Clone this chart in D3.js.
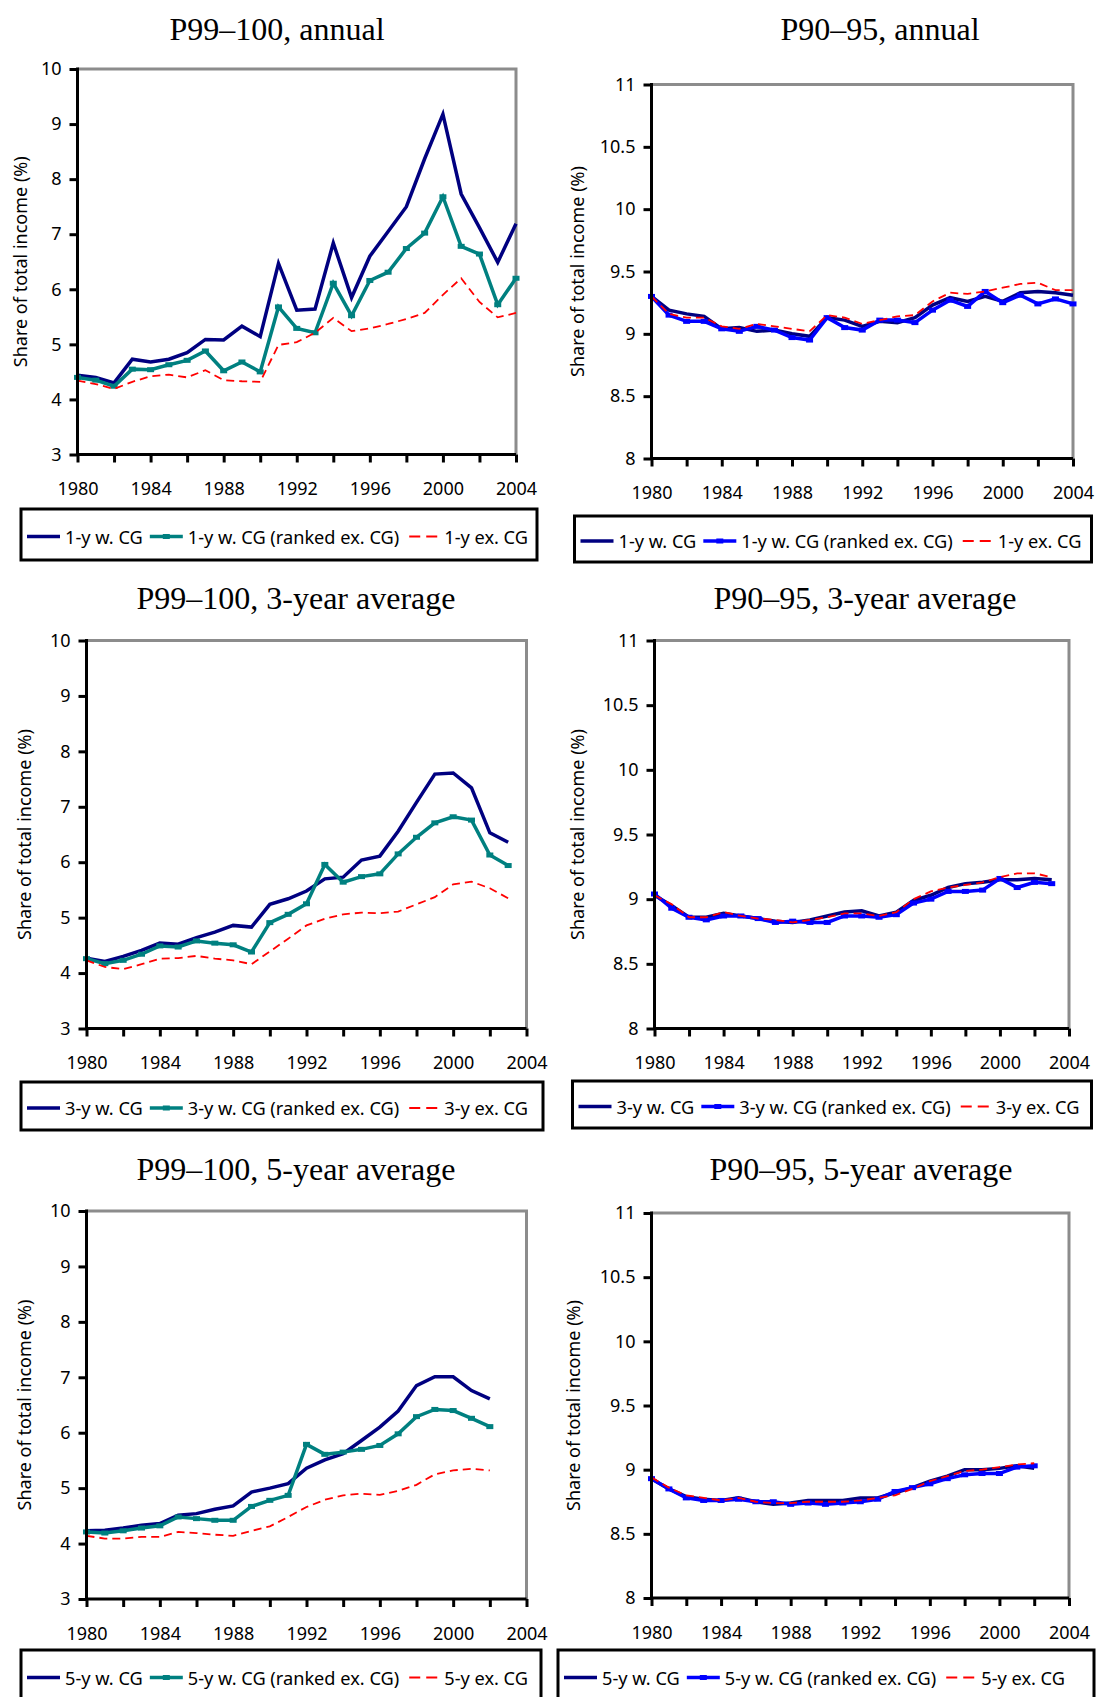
<!DOCTYPE html>
<html>
<head>
<meta charset="utf-8">
<script src="https://cdn.jsdelivr.net/npm/d3@7"></script>
<style>
  body { margin: 0; background: #fff; }
  svg { display: block; font-family: "Noto Sans", sans-serif; }
  .title { font-family: "Liberation Serif", serif; font-size: 32px; }
  .tick text { font-family: "Noto Sans", sans-serif; font-size: 18px; fill: #000; }
</style>
</head>
<body>
<div id="chart"></div>
<script>
// years on the x axis
const years1 = [1980,1981,1982,1983,1984,1985,1986,1987,1988,1989,1990,1991,1992,1993,1994,1995,1996,1997,1998,1999,2000,2001,2002,2003,2004];
const years3 = [1980,1981,1982,1983,1984,1985,1986,1987,1988,1989,1990,1991,1992,1993,1994,1995,1996,1997,1998,1999,2000,2001,2002,2003];
const years5 = [1980,1981,1982,1983,1984,1985,1986,1987,1988,1989,1990,1991,1992,1993,1994,1995,1996,1997,1998,1999,2000,2001,2002];

const xTickYears = [1980,1982,1984,1986,1988,1990,1992,1994,1996,1998,2000,2002,2004];
const xLabelYears = [1980,1984,1988,1992,1996,2000,2004];
const yTicksTop = [3,4,5,6,7,8,9,10];
const yTicksMid = [8,8.5,9,9.5,10,10.5,11];

// P99-100
const p99Annual_wCG   = [4.44,4.40,4.30,4.73,4.68,4.73,4.85,5.09,5.08,5.33,5.14,6.47,5.62,5.64,6.84,5.85,6.60,7.05,7.50,8.37,9.18,7.73,7.12,6.49,7.19];
const p99Annual_ranked = [4.40,4.35,4.24,4.55,4.54,4.63,4.71,4.88,4.52,4.68,4.50,5.68,5.29,5.21,6.11,5.52,6.16,6.31,6.74,7.02,7.68,6.78,6.64,5.72,6.20];
const p99Annual_exCG  = [4.34,4.28,4.19,4.32,4.42,4.45,4.40,4.53,4.35,4.33,4.32,4.99,5.04,5.21,5.48,5.24,5.29,5.37,5.46,5.57,5.90,6.20,5.77,5.49,5.57];

const p99Avg3_wCG   = [4.27,4.21,4.30,4.41,4.54,4.52,4.64,4.74,4.86,4.83,5.24,5.34,5.48,5.70,5.73,6.04,6.11,6.56,7.08,7.59,7.61,7.34,6.53,6.36];
const p99Avg3_ranked = [4.26,4.17,4.23,4.34,4.49,4.47,4.58,4.54,4.51,4.38,4.91,5.06,5.25,5.96,5.64,5.74,5.79,6.15,6.45,6.71,6.82,6.76,6.13,5.94];
const p99Avg3_exCG  = [4.23,4.11,4.07,4.16,4.26,4.27,4.31,4.26,4.23,4.16,4.39,4.62,4.86,4.98,5.06,5.09,5.08,5.11,5.24,5.37,5.60,5.65,5.53,5.35];

const p99Avg5_wCG   = [4.23,4.24,4.28,4.33,4.36,4.51,4.54,4.62,4.68,4.93,5.00,5.08,5.36,5.51,5.62,5.86,6.10,6.39,6.85,7.01,7.01,6.76,6.61];
const p99Avg5_ranked = [4.21,4.19,4.23,4.28,4.32,4.48,4.45,4.42,4.42,4.67,4.78,4.87,5.79,5.61,5.65,5.70,5.77,5.98,6.29,6.42,6.40,6.26,6.11];
const p99Avg5_exCG  = [4.14,4.09,4.09,4.12,4.12,4.21,4.19,4.16,4.14,4.23,4.31,4.48,4.66,4.79,4.87,4.90,4.88,4.95,5.06,5.25,5.32,5.35,5.32];

// P90-95
const p90Annual_wCG   = [9.30,9.19,9.16,9.14,9.04,9.05,9.02,9.03,9.00,8.98,9.13,9.11,9.06,9.10,9.09,9.13,9.23,9.29,9.26,9.30,9.26,9.33,9.34,9.33,9.31];
const p90Annual_ranked = [9.30,9.15,9.10,9.10,9.04,9.02,9.06,9.03,8.97,8.95,9.13,9.05,9.03,9.11,9.11,9.09,9.19,9.27,9.22,9.34,9.25,9.31,9.24,9.28,9.24];
const p90Annual_exCG  = [9.30,9.16,9.13,9.13,9.06,9.04,9.08,9.06,9.04,9.02,9.15,9.13,9.08,9.11,9.14,9.15,9.26,9.33,9.32,9.34,9.37,9.40,9.41,9.35,9.35];

const p90Avg3_wCG   = [9.03,8.95,8.86,8.86,8.89,8.87,8.85,8.83,8.82,8.84,8.87,8.90,8.91,8.87,8.90,8.99,9.03,9.09,9.12,9.13,9.15,9.15,9.16,9.15];
const p90Avg3_ranked = [9.04,8.93,8.86,8.84,8.87,8.87,8.85,8.82,8.83,8.82,8.82,8.87,8.87,8.86,8.88,8.97,9.00,9.06,9.06,9.07,9.16,9.09,9.13,9.12];
const p90Avg3_exCG  = [9.03,8.96,8.86,8.86,8.90,8.87,8.85,8.84,8.82,8.84,8.86,8.89,8.89,8.87,8.90,9.00,9.06,9.09,9.11,9.13,9.17,9.20,9.20,9.17];

const p90Avg5_wCG   = [8.93,8.85,8.79,8.77,8.76,8.78,8.75,8.73,8.74,8.76,8.76,8.76,8.78,8.78,8.82,8.86,8.91,8.95,9.00,9.00,9.01,9.03,9.01];
const p90Avg5_ranked = [8.93,8.85,8.78,8.76,8.76,8.77,8.75,8.75,8.73,8.74,8.73,8.74,8.75,8.77,8.83,8.86,8.89,8.93,8.96,8.97,8.97,9.02,9.03];
const p90Avg5_exCG  = [8.94,8.86,8.80,8.78,8.76,8.78,8.75,8.74,8.74,8.75,8.75,8.75,8.76,8.78,8.80,8.85,8.91,8.95,8.99,9.00,9.02,9.04,9.05];

const width = 1096;
const height = 1697;

const navy = '#000080';
const teal = '#008080';
const blue = '#0000ff';
const red = '#ff0000';

// layout of each panel (pixels)
const panels = [
  { title: 'P99–100, annual', titleX: 277, titleY: 40, prefix: '1-y', years: years1,
    series: [p99Annual_wCG, p99Annual_ranked, p99Annual_exCG], rankedColor: teal,
    yDomain: [3, 10], yTicks: yTicksTop,
    left: 77.5, right: 516, top: 69, bottom: 454.5, labelX: 20,
    legend: { x: 21, y: 509, w: 516, h: 51 } },
  { title: 'P90–95, annual', titleX: 880, titleY: 40, prefix: '1-y', years: years1,
    series: [p90Annual_wCG, p90Annual_ranked, p90Annual_exCG], rankedColor: blue,
    yDomain: [8, 11], yTicks: yTicksMid,
    left: 651.5, right: 1073, top: 84.5, bottom: 458.5, labelX: 577,
    legend: { x: 574.5, y: 516, w: 517, h: 46 } },
  { title: 'P99–100, 3-year average', titleX: 296, titleY: 609, prefix: '3-y', years: years3,
    series: [p99Avg3_wCG, p99Avg3_ranked, p99Avg3_exCG], rankedColor: teal,
    yDomain: [3, 10], yTicks: yTicksTop,
    left: 86.5, right: 526.5, top: 640.5, bottom: 1028.5, labelX: 24,
    legend: { x: 21, y: 1082, w: 522, h: 48 } },
  { title: 'P90–95, 3-year average', titleX: 865, titleY: 609, prefix: '3-y', years: years3,
    series: [p90Avg3_wCG, p90Avg3_ranked, p90Avg3_exCG], rankedColor: blue,
    yDomain: [8, 11], yTicks: yTicksMid,
    left: 654.5, right: 1069, top: 640.5, bottom: 1028.5, labelX: 577,
    legend: { x: 572.5, y: 1081, w: 519, h: 47 } },
  { title: 'P99–100, 5-year average', titleX: 296, titleY: 1180, prefix: '5-y', years: years5,
    series: [p99Avg5_wCG, p99Avg5_ranked, p99Avg5_exCG], rankedColor: teal,
    yDomain: [3, 10], yTicks: yTicksTop,
    left: 86.5, right: 526.5, top: 1211, bottom: 1599, labelX: 24,
    legend: { x: 21, y: 1650, w: 520, h: 51 } },
  { title: 'P90–95, 5-year average', titleX: 861, titleY: 1180, prefix: '5-y', years: years5,
    series: [p90Avg5_wCG, p90Avg5_ranked, p90Avg5_exCG], rankedColor: blue,
    yDomain: [8, 11], yTicks: yTicksMid,
    left: 651.5, right: 1069, top: 1213, bottom: 1598, labelX: 573,
    legend: { x: 558, y: 1650, w: 536, h: 51 } },
];

const svg = d3.select('#chart')
  .append('svg')
  .attr('width', width)
  .attr('height', height)
  .attr('viewBox', `0 0 ${width} ${height}`);

svg.append('rect').attr('width', width).attr('height', height).attr('fill', '#fff');

panels.forEach(drawPanel);

function drawPanel(p) {
  const g = svg.append('g');

  const xScale = d3.scaleLinear().domain([1980, 2004]).range([p.left, p.right]);
  const yScale = d3.scaleLinear().domain(p.yDomain).range([p.bottom, p.top]);

  // title
  g.append('text')
    .attr('class', 'title')
    .attr('x', p.titleX)
    .attr('y', p.titleY)
    .attr('text-anchor', 'middle')
    .text(p.title);

  // grey top and right border of plot area
  g.append('path')
    .attr('d', `M${p.left},${p.top}H${p.right}V${p.bottom}`)
    .attr('fill', 'none')
    .attr('stroke', '#8c8c8c')
    .attr('stroke-width', 3);

  const styles = [
    { color: navy, width: 3.5, dash: null, marker: false },
    { color: p.rankedColor, width: 3.5, dash: null, marker: true },
    { color: red, width: 1.8, dash: '8,5', marker: false },
  ];

  const line = d3.line()
    .x((d) => xScale(d[0]))
    .y((d) => yScale(d[1]));

  p.series.forEach((vals, i) => {
    const s = styles[i];
    const pts = p.years.map((yr, j) => [yr, vals[j]]);
    g.append('path')
      .datum(pts)
      .attr('d', line)
      .attr('fill', 'none')
      .attr('stroke', s.color)
      .attr('stroke-width', s.width)
      .attr('stroke-linejoin', 'miter')
      .attr('stroke-dasharray', s.dash);

    if (s.marker) {
      g.append('g')
        .selectAll('rect')
        .data(pts)
        .join('rect')
        .attr('x', (d) => xScale(d[0]) - 3.5)
        .attr('y', (d) => yScale(d[1]) - 2.5)
        .attr('width', 7)
        .attr('height', 5)
        .attr('fill', s.color);
    }
  });

  // y axis
  const yAxis = d3.axisLeft(yScale)
    .tickValues(p.yTicks)
    .tickFormat((d) => String(d))
    .tickSize(8)
    .tickSizeOuter(0)
    .tickPadding(8);

  const ya = g.append('g')
    .attr('transform', `translate(${p.left},0)`)
    .call(yAxis);
  ya.select('.domain').attr('stroke', '#000').attr('stroke-width', 3)
    .attr('d', `M0,${p.top - 1.5}V${p.bottom + 1.5}`);
  ya.selectAll('.tick line').attr('stroke', '#000').attr('stroke-width', 3);

  // x axis
  const xAxis = d3.axisBottom(xScale)
    .tickValues(xTickYears)
    .tickFormat((d) => (xLabelYears.includes(d) ? String(d) : ''))
    .tickSize(8)
    .tickSizeOuter(0)
    .tickPadding(20);

  const xa = g.append('g')
    .attr('transform', `translate(0,${p.bottom})`)
    .call(xAxis);
  xa.select('.domain').attr('stroke', '#000').attr('stroke-width', 3)
    .attr('d', `M${p.left - 1.5},0H${p.right}`);
  xa.selectAll('.tick line').attr('stroke', '#000').attr('stroke-width', 3);

  // y axis title
  g.append('text')
    .attr('transform', `translate(${p.labelX},${(p.top + p.bottom) / 2}) rotate(-90)`)
    .attr('text-anchor', 'middle')
    .attr('dominant-baseline', 'central')
    .style('font-size', '18px')
    .text('Share of total income (%)');

  drawLegend(g, p, styles);
}

function drawLegend(g, p, styles) {
  const L = p.legend;
  g.append('rect')
    .attr('x', L.x)
    .attr('y', L.y)
    .attr('width', L.w)
    .attr('height', L.h)
    .attr('fill', '#fff')
    .attr('stroke', '#000')
    .attr('stroke-width', 3);

  const labels = [
    `${p.prefix} w. CG`,
    `${p.prefix} w. CG (ranked ex. CG)`,
    `${p.prefix} ex. CG`,
  ];
  const cy = L.y + L.h / 2 + 2;
  let cx = L.x + 6;

  labels.forEach((lab, i) => {
    const s = styles[i];
    const sampleLen = s.dash ? 28 : 33;
    const sx = s.dash ? cx + 3 : cx;
    g.append('line')
      .attr('x1', sx)
      .attr('x2', sx + sampleLen)
      .attr('y1', cy)
      .attr('y2', cy)
      .attr('stroke', s.color)
      .attr('stroke-width', s.dash ? 2 : s.width)
      .attr('stroke-dasharray', s.dash ? '11,6' : null);
    if (s.marker) {
      g.append('rect')
        .attr('x', cx + 13)
        .attr('y', cy - 2.5)
        .attr('width', 7)
        .attr('height', 5)
        .attr('fill', s.color);
    }
    const t = g.append('text')
      .attr('x', cx + 38)
      .attr('y', cy)
      .attr('dominant-baseline', 'central')
      .style('font-size', '18.2px')
      .text(lab);
    cx = cx + 38 + t.node().getComputedTextLength() + 7;
  });
}
</script>
</body>
</html>
